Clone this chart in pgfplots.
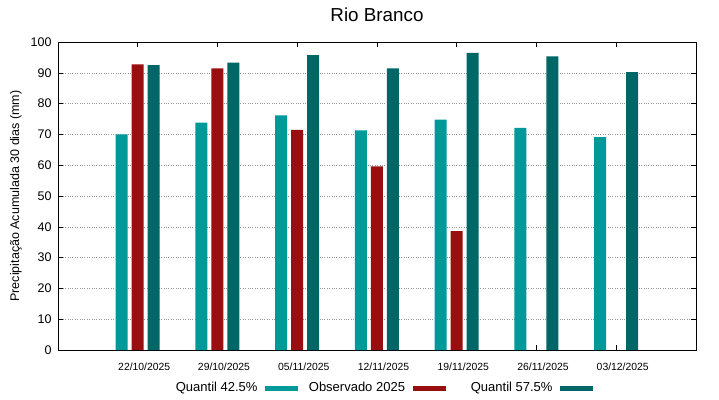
\documentclass[border=0pt]{standalone}
\usepackage{pgfplots}
\pgfplotsset{compat=1.18}
\usepackage{fontspec}
\setmainfont{Liberation Sans}
\definecolor{qlow}{RGB}{0,153,153}
\definecolor{obs}{RGB}{153,14,14}
\definecolor{qhigh}{RGB}{0,102,102}
\begin{document}
\begin{tikzpicture}
\useasboundingbox (-58pt,-49pt) rectangle (661pt,350pt);
\begin{axis}[
  at={(0pt,0pt)}, anchor=south west,
  scale only axis, width=638pt, height=308pt,
  xmin=-1, xmax=7, ymin=0, ymax=100,
  xtick={0,1,2,3,4,5,6},
  xticklabels={22/10/2025,29/10/2025,05/11/2025,12/11/2025,19/11/2025,26/11/2025,03/12/2025},
  ytick={0,10,...,100},
  tick align=inside, tick pos=both,
  major tick length=5pt,
  axis line style={black, line width=0.6pt},
  tick style={black, line width=0.5pt},
  ymajorgrids, major grid style={gray!80, dotted, line width=0.5pt},
  /pgf/number format/assume math mode=true,
  yticklabel style={font=\fontsize{12.5}{14}\selectfont, xshift=-3pt},
  xticklabel style={font=\fontsize{10.4}{12}\selectfont, anchor=center, yshift=-17pt, xshift=6.5pt},
  title={Rio Branco},
  every axis title/.style={at={(axis description cs:0.5,1)}, yshift=27pt, anchor=center, font=\fontsize{18.8}{22}\selectfont},
  ylabel={Precipitação Acumulada 30 dias (mm)},
  every axis y label/.style={at={(axis description cs:-0.0658,0.5)}, rotate=90, anchor=center, font=\fontsize{12.5}{14}\selectfont},
  legend columns=-1,
  legend plot pos=right,
  legend style={at={(axis description cs:0.4918,-0.1234)}, anchor=center, draw=none, fill=none, font=\fontsize{13}{15}\selectfont, column sep=7.5pt, nodes={inner sep=0pt}, inner sep=0pt},
  legend style={/tikz/every even column/.append style={column sep=0pt}},
]
\addplot[ybar, bar width=12pt, bar shift=-16pt, fill=qlow, draw=none, legend image code/.code={\fill[qlow] (0pt,-2.5pt) rectangle (33pt,2.5pt);}]
  coordinates {(0,70.0) (1,73.8) (2,76.2) (3,71.3) (4,74.8) (5,72.1) (6,69.1)};
\addlegendentry{\makebox[107pt][r]{Quantil 42.5\%}}
\addplot[ybar, bar width=12pt, bar shift=0pt, fill=obs, draw=none, legend image code/.code={\fill[obs] (0pt,-2.5pt) rectangle (33pt,2.5pt);}]
  coordinates {(0,92.7) (1,91.4) (2,71.5) (3,59.6) (4,38.6)};
\addlegendentry{\makebox[107pt][r]{Observado 2025}}
\addplot[ybar, bar width=12pt, bar shift=16pt, fill=qhigh, draw=none, legend image code/.code={\fill[qhigh] (0pt,-2.5pt) rectangle (33pt,2.5pt);}]
  coordinates {(0,92.5) (1,93.3) (2,95.7) (3,91.4) (4,96.5) (5,95.3) (6,90.2)};
\addlegendentry{\makebox[107pt][r]{Quantil 57.5\%}}
\end{axis}
\end{tikzpicture}
\end{document}
